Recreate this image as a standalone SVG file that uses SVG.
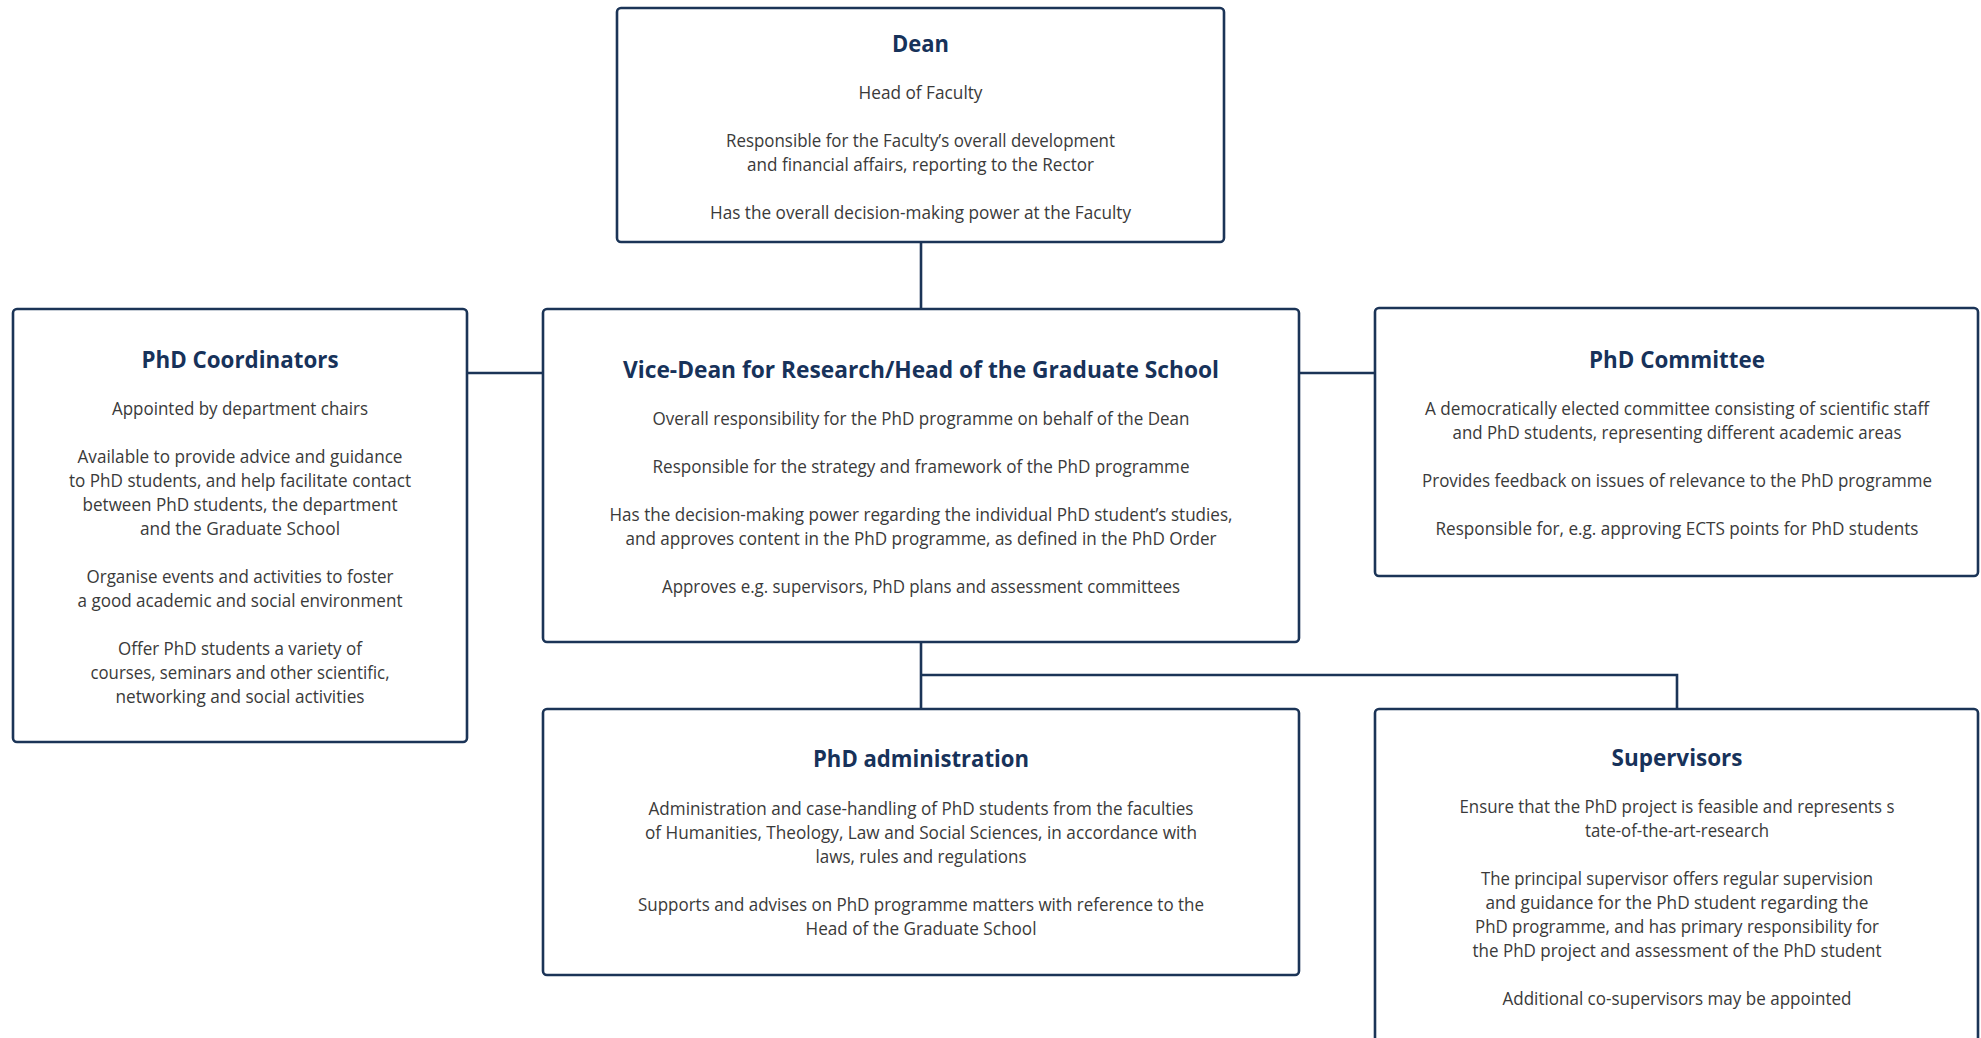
<svg xmlns="http://www.w3.org/2000/svg" width="1981" height="1038" viewBox="0 0 1981 1038">
<style>
.box{fill:#ffffff;stroke:#1b3457;stroke-width:2.6}
.conn{fill:none;stroke:#1b3457;stroke-width:2.6}
.t{font-family:"Open Sans","Noto Sans","Liberation Sans",sans-serif;font-weight:700;font-size:24px;fill:#17325a;text-anchor:middle}
.b{font-family:"Open Sans","Noto Sans","Liberation Sans",sans-serif;font-weight:400;font-size:18px;fill:#3a3a3a;text-anchor:middle}
</style>
<rect width="1981" height="1038" fill="#ffffff"/>
<g id="connectors">
<line class="conn" x1="921" y1="242" x2="921" y2="309"/>
<line class="conn" x1="467" y1="373" x2="543" y2="373"/>
<line class="conn" x1="1299" y1="373" x2="1375" y2="373"/>
<line class="conn" x1="921" y1="642" x2="921" y2="709"/>
<polyline class="conn" points="921,675 1677,675 1677,709"/>
</g>
<g id="dean">
<rect class="box" x="617" y="8" width="607" height="234" rx="4"/>
<text class="t" x="920.5" y="52" textLength="57" lengthAdjust="spacingAndGlyphs">Dean</text>
<text class="b" x="920.5" y="99" textLength="124" lengthAdjust="spacingAndGlyphs">Head of Faculty</text>
<text class="b" x="920.5" y="147" textLength="389" lengthAdjust="spacingAndGlyphs">Responsible for the Faculty’s overall development</text>
<text class="b" x="920.5" y="171" textLength="347" lengthAdjust="spacingAndGlyphs">and financial affairs, reporting to the Rector</text>
<text class="b" x="920.5" y="219" textLength="421" lengthAdjust="spacingAndGlyphs">Has the overall decision-making power at the Faculty</text>
</g>
<g id="phd-coordinators">
<rect class="box" x="13" y="309" width="454" height="433" rx="4"/>
<text class="t" x="240" y="368" textLength="197" lengthAdjust="spacingAndGlyphs">PhD Coordinators</text>
<text class="b" x="240" y="415" textLength="256" lengthAdjust="spacingAndGlyphs">Appointed by department chairs</text>
<text class="b" x="240" y="463" textLength="325" lengthAdjust="spacingAndGlyphs">Available to provide advice and guidance</text>
<text class="b" x="240" y="487" textLength="342" lengthAdjust="spacingAndGlyphs">to PhD students, and help facilitate contact</text>
<text class="b" x="240" y="511" textLength="315" lengthAdjust="spacingAndGlyphs">between PhD students, the department</text>
<text class="b" x="240" y="535" textLength="200" lengthAdjust="spacingAndGlyphs">and the Graduate School</text>
<text class="b" x="240" y="583" textLength="307" lengthAdjust="spacingAndGlyphs">Organise events and activities to foster</text>
<text class="b" x="240" y="607" textLength="325" lengthAdjust="spacingAndGlyphs">a good academic and social environment</text>
<text class="b" x="240" y="655" textLength="244" lengthAdjust="spacingAndGlyphs">Offer PhD students a variety of</text>
<text class="b" x="240" y="679" textLength="299" lengthAdjust="spacingAndGlyphs">courses, seminars and other scientific,</text>
<text class="b" x="240" y="703" textLength="249" lengthAdjust="spacingAndGlyphs">networking and social activities</text>
</g>
<g id="vice-dean">
<rect class="box" x="543" y="309" width="756" height="333" rx="4"/>
<text class="t" x="921" y="378" textLength="596" lengthAdjust="spacingAndGlyphs">Vice-Dean for Research/Head of the Graduate School</text>
<text class="b" x="921" y="425" textLength="537" lengthAdjust="spacingAndGlyphs">Overall responsibility for the PhD programme on behalf of the Dean</text>
<text class="b" x="921" y="473" textLength="537" lengthAdjust="spacingAndGlyphs">Responsible for the strategy and framework of the PhD programme</text>
<text class="b" x="921" y="521" textLength="623" lengthAdjust="spacingAndGlyphs">Has the decision-making power regarding the individual PhD student’s studies,</text>
<text class="b" x="921" y="545" textLength="591" lengthAdjust="spacingAndGlyphs">and approves content in the PhD programme, as defined in the PhD Order</text>
<text class="b" x="921" y="593" textLength="518" lengthAdjust="spacingAndGlyphs">Approves e.g. supervisors, PhD plans and assessment committees</text>
</g>
<g id="phd-committee">
<rect class="box" x="1375" y="308" width="603" height="268" rx="4"/>
<text class="t" x="1677" y="368" textLength="176" lengthAdjust="spacingAndGlyphs">PhD Committee</text>
<text class="b" x="1677" y="415" textLength="504" lengthAdjust="spacingAndGlyphs">A democratically elected committee consisting of scientific staff</text>
<text class="b" x="1677" y="439" textLength="449" lengthAdjust="spacingAndGlyphs">and PhD students, representing different academic areas</text>
<text class="b" x="1677" y="487" textLength="510" lengthAdjust="spacingAndGlyphs">Provides feedback on issues of relevance to the PhD programme</text>
<text class="b" x="1677" y="535" textLength="483" lengthAdjust="spacingAndGlyphs">Responsible for, e.g. approving ECTS points for PhD students</text>
</g>
<g id="phd-administration">
<rect class="box" x="543" y="709" width="756" height="266" rx="4"/>
<text class="t" x="921" y="767" textLength="216" lengthAdjust="spacingAndGlyphs">PhD administration</text>
<text class="b" x="921" y="815" textLength="545" lengthAdjust="spacingAndGlyphs">Administration and case-handling of PhD students from the faculties</text>
<text class="b" x="921" y="839" textLength="552" lengthAdjust="spacingAndGlyphs">of Humanities, Theology, Law and Social Sciences, in accordance with</text>
<text class="b" x="921" y="863" textLength="211" lengthAdjust="spacingAndGlyphs">laws, rules and regulations</text>
<text class="b" x="921" y="911" textLength="566" lengthAdjust="spacingAndGlyphs">Supports and advises on PhD programme matters with reference to the</text>
<text class="b" x="921" y="935" textLength="231" lengthAdjust="spacingAndGlyphs">Head of the Graduate School</text>
</g>
<g id="supervisors">
<rect class="box" x="1375" y="709" width="603" height="400" rx="4"/>
<text class="t" x="1677" y="766" textLength="131" lengthAdjust="spacingAndGlyphs">Supervisors</text>
<text class="b" x="1677" y="813" textLength="435" lengthAdjust="spacingAndGlyphs">Ensure that the PhD project is feasible and represents s</text>
<text class="b" x="1677" y="837" textLength="184" lengthAdjust="spacingAndGlyphs">tate-of-the-art-research</text>
<text class="b" x="1677" y="885" textLength="392" lengthAdjust="spacingAndGlyphs">The principal supervisor offers regular supervision</text>
<text class="b" x="1677" y="909" textLength="383" lengthAdjust="spacingAndGlyphs">and guidance for the PhD student regarding the</text>
<text class="b" x="1677" y="933" textLength="404" lengthAdjust="spacingAndGlyphs">PhD programme, and has primary responsibility for</text>
<text class="b" x="1677" y="957" textLength="409" lengthAdjust="spacingAndGlyphs">the PhD project and assessment of the PhD student</text>
<text class="b" x="1677" y="1005" textLength="349" lengthAdjust="spacingAndGlyphs">Additional co-supervisors may be appointed</text>
</g>
</svg>
